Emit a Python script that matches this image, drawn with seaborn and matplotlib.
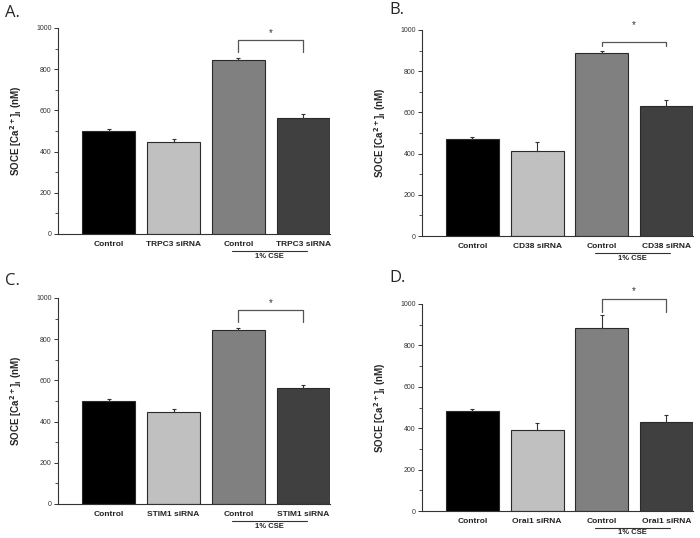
import numpy as np
import pandas as pd
import matplotlib.pyplot as plt
import matplotlib.transforms as mtransforms
from matplotlib.ticker import MultipleLocator
import seaborn as sns

# ---- data ----
groups = ["ctrl", "sirna", "cse_ctrl", "cse_sirna"]
panel_letters = ["A.", "B.", "C.", "D."]
target_names = ["TRPC3", "CD38", "STIM1", "Orai1"]

soce_A = [500, 445, 845, 565]
err_A = [12, 18, 10, 18]
soce_B = [472, 415, 888, 630]
err_B = [10, 42, 12, 28]
soce_C = [500, 445, 845, 565]
err_C = [10, 18, 8, 15]
soce_D = [484, 390, 885, 428]
err_D = [10, 35, 63, 38]

# significance bracket: (top, leg bottom, star height)
bracket_A = (942, 883, 975)
bracket_B = (940, 922, 1025)
bracket_C = (942, 883, 975)
bracket_D = (1023, 963, 1062)

bar_colors = ["#000000", "#c0c0c0", "#808080", "#404040"]

sns.set_theme(style="ticks")
plt.rcParams["font.family"] = ["Liberation Sans", "DejaVu Sans"]

fig = plt.figure(figsize=(7, 5.38), dpi=100)

# axes boxes in pixels: left, right, top(1000), bottom(0)
boxes = [(58, 330, 28, 234), (422, 693, 30, 236),
         (58, 330, 298, 504), (422, 693, 304, 511)]
letter_pos = [(5, 13), (389, 10), (5, 281), (389, 278)]

values = [soce_A, soce_B, soce_C, soce_D]
errors = [err_A, err_B, err_C, err_D]
brackets = [bracket_A, bracket_B, bracket_C, bracket_D]

W, H = 700, 538
for i in range(4):
    l, r, t, b = boxes[i]
    ax = fig.add_axes([l / W, 1 - b / H, (r - l) / W, (b - t) / H])
    df = pd.DataFrame({"group": groups, "soce": values[i]})
    sns.barplot(data=df, x="group", y="soce", hue="group", order=groups,
                hue_order=groups, palette=bar_colors, width=0.82,
                edgecolor="#2a2a2a", linewidth=0.8, errorbar=None,
                legend=False, ax=ax)
    ax.errorbar(range(4), values[i], yerr=[np.zeros(4), errors[i]],
                fmt="none", ecolor="#333333", elinewidth=0.8, capsize=1.5,
                capthick=0.8)

    ax.set_xlim(-0.78, 3.41)
    ax.set_ylim(0, 1000)
    ax.yaxis.set_major_locator(MultipleLocator(200))
    ax.yaxis.set_minor_locator(MultipleLocator(100))
    ax.tick_params(axis="y", which="major", length=3, width=0.7,
                   labelsize=5, colors="#333333", pad=1.5)
    ax.tick_params(axis="y", which="minor", length=2, width=0.6, colors="#333333")
    ax.tick_params(axis="x", length=0, labelsize=6, pad=5)
    ax.set_xticks(range(4))
    ax.set_xticklabels(["Control", target_names[i] + " siRNA",
                        "Control", target_names[i] + " siRNA"],
                       fontweight="bold", color="#222222")
    sns.despine(ax=ax)
    for s in ["left", "bottom"]:
        ax.spines[s].set_linewidth(0.8)
        ax.spines[s].set_color("#333333")
    ax.set_xlabel("")
    ax.set_ylabel(r"SOCE [Ca$^{\mathbf{2+}}$]$_\mathbf{i}$ (nM)", fontsize=7,
                  fontweight="bold", labelpad=9)

    # significance bracket between the two CSE bars
    top, leg, star = brackets[i]
    ax.plot([2, 2, 3, 3], [leg, top, top, leg], color="#555555", lw=0.9,
            clip_on=False)
    ax.text(2.5, star, "*", ha="center", va="center", fontsize=7,
            color="#333333", clip_on=False)

    # "1% CSE" group line, offsets in pixels below the baseline
    hpx = b - t
    trans = mtransforms.blended_transform_factory(ax.transData, ax.transAxes)
    ax.plot([1.9, 3.05], [-16.5 / hpx, -16.5 / hpx], color="#333333", lw=0.8,
            transform=trans, clip_on=False)
    ax.text(2.47, -22 / hpx, "1% CSE", transform=trans, ha="center",
            va="center", fontsize=5.5, fontweight="bold", color="#222222")

    lx, ly = letter_pos[i]
    fig.text(lx / W, 1 - ly / H, panel_letters[i], fontsize=12,
             family="Open Sans", ha="left", va="center")

fig.savefig("out.png", dpi=100)
plt.close()
